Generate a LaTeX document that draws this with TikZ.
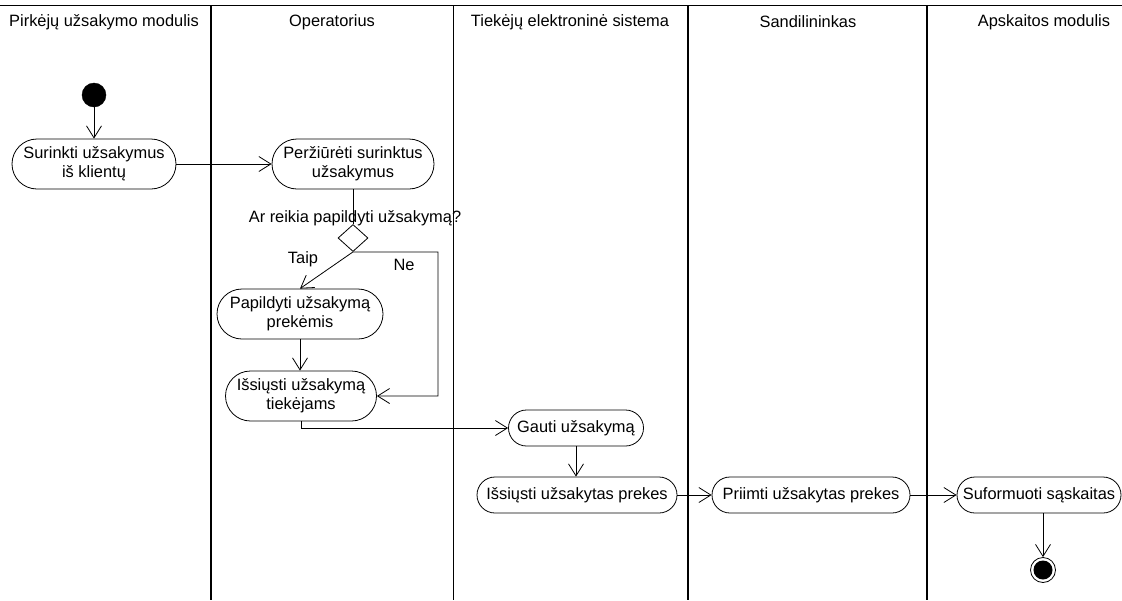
\documentclass[tikz,border=0pt]{standalone}
\usepackage{fontspec}
\setmainfont{Liberation Sans}
\usetikzlibrary{arrows.meta,shapes.geometric}

\begin{document}
\begin{tikzpicture}[x=1pt,y=-1pt,
  every node/.style={font=\fontsize{16.4}{19}\selectfont, text=black},
  act/.style={draw=black, line width=0.8pt, rectangle, inner sep=0pt,
    align=center, fill=white},
  act2/.style={act, minimum height=50pt, rounded corners=25pt},
  act1/.style={act, minimum height=36pt, rounded corners=18pt},
  flow/.style={draw=black, line width=0.8pt,
    -{Straight Barb[length=12pt,width=15pt,line width=0.8pt]}},
  lane/.style={draw=black, line width=1.6pt},
  thinlane/.style={draw=black, line width=0.8pt},
  hdr/.style={anchor=center, inner sep=0pt},
  lbl/.style={anchor=center, inner sep=0pt}
]
\useasboundingbox[fill=white] (0,0) rectangle (1122,600);

% swimlane frame
\draw[line width=1pt] (0,5) -- (1122,5);
\draw[lane] (211,5) -- (211,600);
\draw[thinlane] (453,5) -- (453,600);
\draw[lane] (688,5) -- (688,600);
\draw[lane] (927,5) -- (927,600);

% lane headers
\node[hdr] (h1) at (104,22) {Pirkėjų užsakymo modulis};
\node[hdr] (h2) at (332,22) {Operatorius};
\node[hdr] (h3) at (570,22) {Tiekėjų elektroninė sistema};
\node[hdr] (h4) at (808,22) {Sandilininkas};
\node[hdr] (h5) at (1044,22) {Apskaitos modulis};

% initial and final states
\node[circle, fill=black, draw=black, minimum size=24pt, inner sep=0pt] (start) at (94,95) {};
\node[circle, draw=black, line width=0.8pt, fill=white, minimum size=25pt, inner sep=0pt] (end) at (1043,570) {};
\fill[black] (end.center) circle (9.5pt);

% activities
\node[act2, minimum width=164pt] (s1) at (94,164) {Surinkti užsakymus\\iš klientų};
\node[act2, minimum width=162pt] (s2) at (353,164) {Peržiūrėti surinktus\\užsakymus};
\node[diamond, draw=black, line width=0.8pt, fill=white, minimum width=30pt, minimum height=27pt, inner sep=0pt] (dec) at (353,238) {};
\node[act2, minimum width=166pt] (s3) at (300,314) {Papildyti užsakymą\\prekėmis};
\node[act2, minimum width=151pt] (s4) at (301,396) {Išsiųsti užsakymą\\tiekėjams};
\node[act1, minimum width=135pt] (s5) at (576,428) {Gauti užsakymą};
\node[act1, minimum width=200pt] (s6) at (577,495) {Išsiųsti užsakytas prekes};
\node[act1, minimum width=198pt] (s7) at (811,495) {Priimti užsakytas prekes};
\node[act1, minimum width=164pt] (s8) at (1039,495) {Suformuoti sąskaitas};

% labels around the decision
\node[lbl] (q) at (355,218) {Ar reikia papildyti užsakymą?};
\node[lbl] (taip) at (303,259) {Taip};
\node[lbl] (ne) at (404,265) {Ne};

% control flow
\coordinate (nebend) at (438,252);
\draw[flow] (start) -- (s1);
\draw[flow] (s1.east) -- (s2.west);
\draw[line width=0.8pt] (s2.south) -- (dec.north);
\draw[flow] (dec.south) -- (s3.north);
\draw[flow] (dec.south) -- (nebend) |- (s4.east);
\draw[flow] (s3.south) -- (s3.south |- s4.north);
\draw[flow] (s4.south) |- (s5.west);
\draw[flow] (s5.south) -- (s5.south |- s6.north);
\draw[flow] (s6.east) -- (s7.west);
\draw[flow] (s7.east) -- (s8.west);
\draw[flow] (end |- s8.south) -- (end.north);
\end{tikzpicture}
\end{document}
